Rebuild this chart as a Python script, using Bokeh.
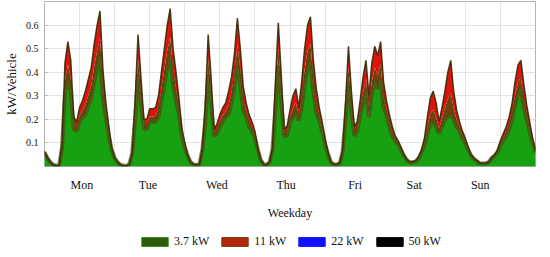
from bokeh.plotting import figure
from bokeh.layouts import column
from bokeh.models import FixedTicker, Legend, LegendItem, Range1d, ColumnDataSource
from bokeh.embed import file_html
from bokeh.resources import INLINE

# ---- data (kW per vehicle, hourly, Monday 0h .. Sunday 24h) ----
days = ["Mon", "Tue", "Wed", "Thu", "Fri", "Sat", "Sun"]
day_label_hours = [12.8, 35.4, 59.0, 82.7, 106.3, 126.5, 149.1]
grid_hours = [12, 24, 36, 48, 60, 72, 84, 96, 108, 120, 132, 144, 156]
y_ticks = [0.1, 0.2, 0.3, 0.4, 0.5, 0.6]
series_names = ["3.7 kW", "11 kW", "22 kW", "50 kW"]

kw37_mon = [0.058, 0.036, 0.018, 0.007, 0.004, 0.005, 0.08, 0.31, 0.37, 0.32, 0.16, 0.15,
            0.19, 0.21, 0.22, 0.26, 0.29, 0.36, 0.42, 0.47, 0.29, 0.21, 0.13, 0.07]
kw11_mon = [0.007, 0.004, 0.002, 0.001, 0.0, 0.0, 0.02, 0.13, 0.16, 0.13, 0.05, 0.04,
            0.06, 0.07, 0.10, 0.11, 0.13, 0.16, 0.18, 0.19, 0.12, 0.06, 0.04, 0.01]
kw37_tue = [0.036, 0.018, 0.007, 0.004, 0.003, 0.009, 0.055, 0.20, 0.39, 0.27, 0.16, 0.16,
            0.19, 0.19, 0.19, 0.21, 0.28, 0.35, 0.42, 0.47, 0.35, 0.28, 0.22, 0.13]
kw11_tue = [0.004, 0.002, 0.001, 0.0, 0.0, 0.001, 0.005, 0.08, 0.17, 0.11, 0.04, 0.04,
            0.055, 0.055, 0.06, 0.09, 0.12, 0.15, 0.18, 0.20, 0.15, 0.12, 0.07, 0.03]
kw37_wed = [0.08, 0.045, 0.018, 0.009, 0.007, 0.009, 0.07, 0.19, 0.39, 0.27, 0.13, 0.14,
            0.17, 0.195, 0.21, 0.22, 0.27, 0.34, 0.44, 0.35, 0.24, 0.21, 0.17, 0.15]
kw11_wed = [0.02, 0.005, 0.002, 0.001, 0.001, 0.001, 0.01, 0.07, 0.17, 0.11, 0.03, 0.04,
            0.05, 0.055, 0.06, 0.10, 0.11, 0.14, 0.19, 0.15, 0.10, 0.06, 0.05, 0.04]
kw37_thu = [0.12, 0.07, 0.027, 0.009, 0.007, 0.018, 0.07, 0.25, 0.43, 0.28, 0.13, 0.13,
            0.19, 0.21, 0.23, 0.195, 0.25, 0.35, 0.42, 0.445, 0.315, 0.23, 0.195, 0.15]
kw11_thu = [0.03, 0.01, 0.003, 0.001, 0.001, 0.002, 0.01, 0.11, 0.18, 0.11, 0.03, 0.04,
            0.05, 0.09, 0.10, 0.055, 0.11, 0.15, 0.18, 0.19, 0.135, 0.10, 0.055, 0.04]
kw37_fri = [0.095, 0.054, 0.018, 0.009, 0.009, 0.013, 0.062, 0.20, 0.36, 0.23, 0.13, 0.15,
            0.22, 0.27, 0.32, 0.21, 0.31, 0.36, 0.33, 0.37, 0.25, 0.22, 0.17, 0.13]
kw11_fri = [0.025, 0.006, 0.002, 0.001, 0.001, 0.002, 0.008, 0.07, 0.15, 0.09, 0.04, 0.04,
            0.06, 0.11, 0.13, 0.09, 0.13, 0.15, 0.14, 0.16, 0.11, 0.06, 0.05, 0.04]
kw37_sat = [0.11, 0.095, 0.07, 0.045, 0.027, 0.018, 0.018, 0.022, 0.035, 0.06, 0.09, 0.14,
            0.18, 0.19, 0.17, 0.14, 0.17, 0.20, 0.21, 0.22, 0.20, 0.17, 0.15, 0.12]
kw11_sat = [0.02, 0.015, 0.01, 0.005, 0.003, 0.002, 0.002, 0.003, 0.005, 0.01, 0.03, 0.07,
            0.11, 0.13, 0.10, 0.05, 0.08, 0.12, 0.19, 0.23, 0.12, 0.07, 0.04, 0.03]
kw37_sun = [0.10, 0.07, 0.045, 0.032, 0.022, 0.013, 0.013, 0.013, 0.018, 0.035, 0.045, 0.06,
            0.09, 0.11, 0.13, 0.16, 0.20, 0.26, 0.31, 0.33, 0.25, 0.20, 0.15, 0.10, 0.06]
kw11_sun = [0.02, 0.01, 0.005, 0.003, 0.003, 0.002, 0.002, 0.002, 0.002, 0.005, 0.005, 0.01,
            0.02, 0.03, 0.04, 0.05, 0.07, 0.10, 0.12, 0.12, 0.10, 0.06, 0.04, 0.02, 0.01]

kw37 = kw37_mon + kw37_tue + kw37_wed + kw37_thu + kw37_fri + kw37_sat + kw37_sun
kw11 = kw11_mon + kw11_tue + kw11_wed + kw11_thu + kw11_fri + kw11_sat + kw11_sun
hours = list(range(len(kw37)))
top = [a + b for a, b in zip(kw37, kw11)]
# lower part of the 11 kW band appears darker (dense edge lines in the source figure)
band = [a + 0.4 * b for a, b in zip(kw37, kw11)]

src = ColumnDataSource(dict(h=hours, zero=[0.0] * len(hours), g=kw37, b=band, t=top))

SERIF = "Liberation Serif"

p = figure(width=542, height=222, x_range=Range1d(0, 168), y_range=Range1d(0, 0.7),
           output_backend="svg", toolbar_location=None,
           min_border_left=37, min_border_right=7, min_border_top=1, min_border_bottom=55)
p.outline_line_color = "#b4b4b4"
p.background_fill_color = "white"

# grid
p.xgrid.ticker = FixedTicker(ticks=grid_hours)
p.ygrid.ticker = FixedTicker(ticks=y_ticks)
p.xgrid.grid_line_color = "#e4e4e4"
p.ygrid.grid_line_color = "#e4e4e4"

# stacked areas
p.varea(x="h", y1="zero", y2="g", source=src, fill_color="#16a012")
p.varea(x="h", y1="g", y2="b", source=src, fill_color="#6e420c")
p.varea(x="h", y1="b", y2="t", source=src, fill_color="#dc140c")
p.line(x="h", y="g", source=src, line_color="#4e4a0c", line_width=4, line_alpha=0.7)
p.line(x="h", y="t", source=src, line_color="#3a2a08", line_width=1.5, line_alpha=0.9)

# axes
xa = p.xaxis[0]
xa.ticker = FixedTicker(ticks=day_label_hours)
xa.major_label_overrides = {h: d for h, d in zip(day_label_hours, days)}
xa.axis_line_color = None
xa.major_tick_line_color = None
xa.minor_tick_line_color = None
xa.major_label_standoff = 5
xa.major_label_text_font = SERIF
xa.major_label_text_font_size = "12px"
xa.major_label_text_color = "#111111"
xa.axis_label = "Weekday"
xa.axis_label_text_font = SERIF
xa.axis_label_text_font_size = "12px"
xa.axis_label_text_font_style = "normal"
xa.axis_label_text_color = "#111111"
xa.axis_label_standoff = 11

ya = p.yaxis[0]
ya.ticker = FixedTicker(ticks=y_ticks)
ya.axis_line_color = None
ya.major_tick_in = 3
ya.major_tick_out = 0
ya.major_tick_line_color = "#b4b4b4"
ya.minor_tick_line_color = None
ya.major_label_standoff = 6
ya.major_label_text_font = SERIF
ya.major_label_text_font_size = "10px"
ya.major_label_text_color = "#111111"
ya.axis_label = "kW/Vehicle"
ya.axis_label_text_font = SERIF
ya.axis_label_text_font_size = "13px"
ya.axis_label_text_font_style = "normal"
ya.axis_label_text_color = "#111111"
ya.axis_label_standoff = 4

# legend in its own strip below the chart (proxy glyphs sit outside the strip's range)
lf = figure(width=542, height=27, x_range=Range1d(0, 1), y_range=Range1d(0, 1),
            output_backend="svg", toolbar_location=None, x_axis_type=None, y_axis_type=None,
            min_border_left=0, min_border_right=0, min_border_top=0, min_border_bottom=0)
lf.outline_line_color = None
lf.xgrid.visible = False
lf.ygrid.visible = False
swatch_fill = ["#2f5a0c", "#b3260a", "#1010ff", "#000000"]
swatch_line = ["#2a8a10", "#7a3a10", "#1010ff", "#000000"]
items = []
for name, fc, lc in zip(series_names, swatch_fill, swatch_line):
    r = lf.quad(left=[5], right=[6], top=[5], bottom=[4], fill_color=fc, line_color=lc, line_width=1)
    items.append(LegendItem(label=name, renderers=[r]))
legend = Legend(items=items, orientation="horizontal", location=(94, 0),
                glyph_width=33, glyph_height=11, label_standoff=3, spacing=9,
                padding=2, margin=0, border_line_color=None, background_fill_alpha=0,
                label_text_font=SERIF, label_text_font_size="12px",
                label_text_color="#111111", label_height=11)
lf.add_layout(legend)

open("out.html", "w").write(file_html(column(p, lf, spacing=0), INLINE))
